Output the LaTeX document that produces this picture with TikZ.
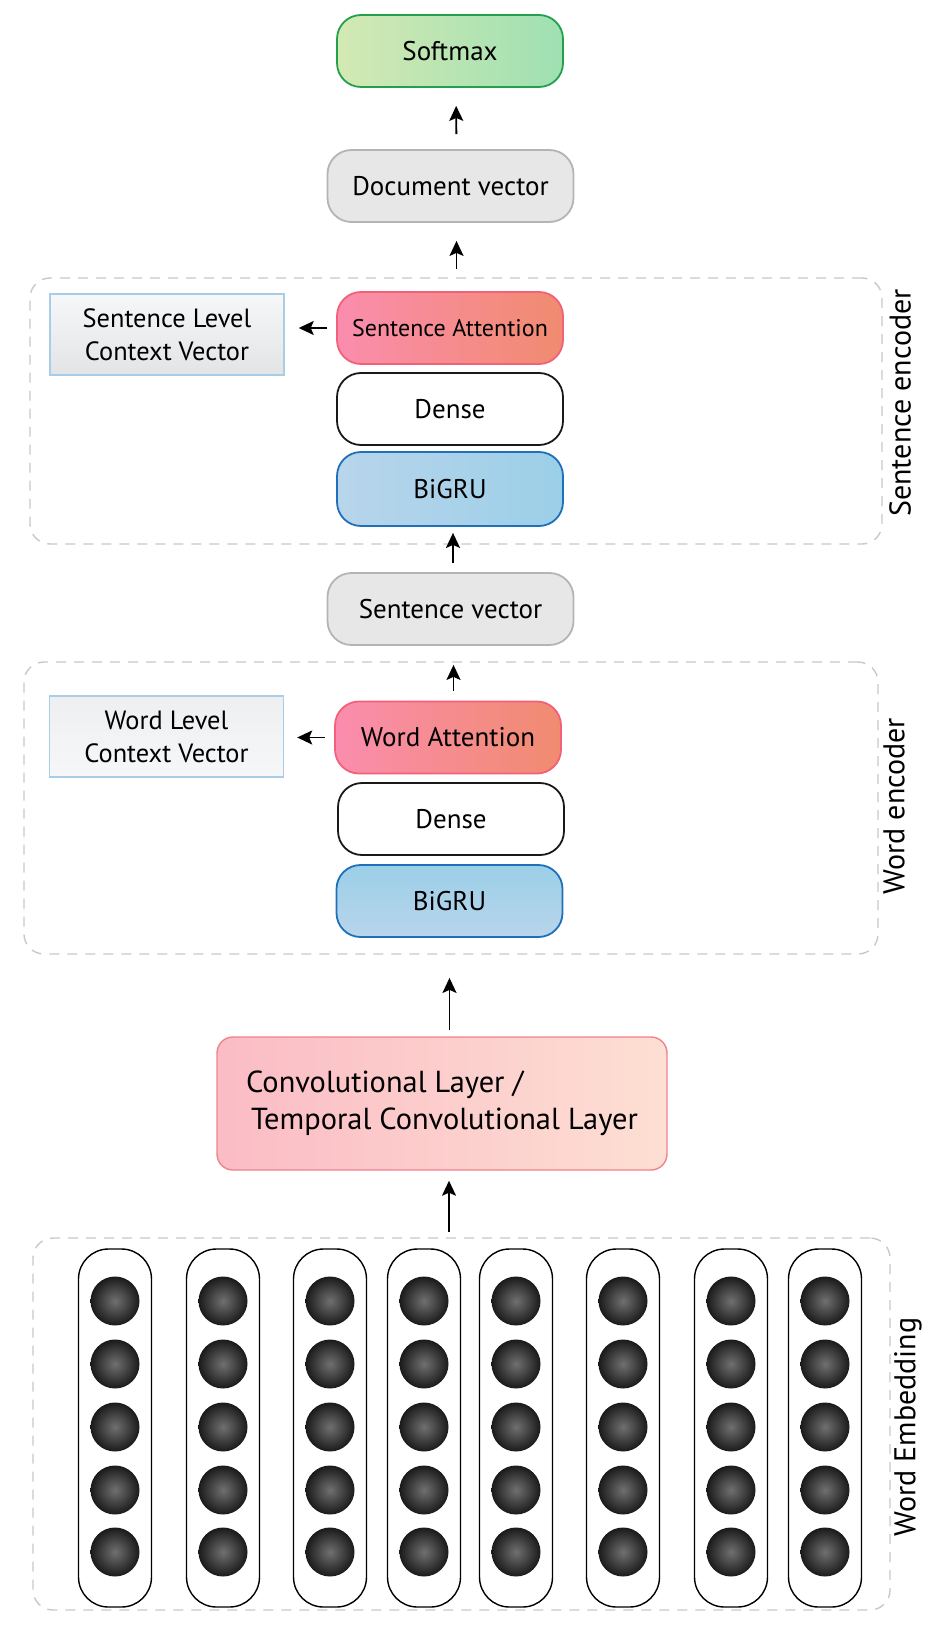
\documentclass[tikz,border=0pt]{standalone}
\usepackage{fontspec}
\setmainfont{PT Sans}
\usetikzlibrary{arrows.meta}

\definecolor{softL}{HTML}{D4E9B4}
\definecolor{softR}{HTML}{9FE0B2}
\definecolor{softB}{HTML}{22A04C}
\definecolor{vecF}{HTML}{E7E7E7}
\definecolor{vecB}{HTML}{B4B4B4}
\definecolor{attL}{HTML}{FA8DAE}
\definecolor{attR}{HTML}{F18B6F}
\definecolor{attB}{HTML}{F2607A}
\definecolor{gruL}{HTML}{B8D5EB}
\definecolor{gruR}{HTML}{9BCFE8}
\definecolor{gruB}{HTML}{1F6FB9}
\definecolor{ctxT}{HTML}{F5F7F9}
\definecolor{ctxD}{HTML}{E3E4E6}
\definecolor{ctxB}{HTML}{A9CDE6}
\definecolor{convL}{HTML}{FBBCC5}
\definecolor{convR}{HTML}{FDDFD3}
\definecolor{convB}{HTML}{F0828A}
\definecolor{grpB}{HTML}{C8C8C8}
\definecolor{ballI}{HTML}{707070}
\definecolor{ballO}{HTML}{1A1A1A}

\tikzset{
  layer/.style={draw, rounded corners=12pt, line width=0.9pt, minimum width=113pt, minimum height=36pt, font=\fontsize{13.5}{16}\selectfont},
  softbox/.style={layer, draw=softB, left color=softL, right color=softR},
  vecbox/.style={layer, draw=vecB, fill=vecF, minimum width=123pt},
  attbox/.style={layer, draw=attB, left color=attL, right color=attR},
  densebox/.style={layer, draw=black!90, fill=white},
  grubox/.style={layer, draw=gruB, left color=gruL, right color=gruR},
  ctxbox/.style={draw=ctxB, line width=0.7pt, top color=ctxT, bottom color=ctxD, minimum width=117pt, minimum height=40.5pt, align=center, font=\fontsize{13.2}{16.5}\selectfont},
  convbox/.style={draw=convB, line width=0.7pt, rounded corners=8pt, left color=convL, right color=convR, minimum width=225pt, minimum height=66.5pt, align=left, font=\fontsize{15.2}{18.5}\selectfont},
  groupbox/.style={draw=grpB, dash pattern=on 5pt off 4pt, line width=0.7pt, rounded corners=10pt},
  grouplabel/.style={rotate=90, font=\fontsize{15}{18}\selectfont},
  wordcol/.style={draw=black, line width=0.7pt, rounded corners=15pt, minimum width=36.5pt, minimum height=179pt},
  ball/.style={circle, minimum size=24.5pt, inner color=ballI, outer color=ballO},
  arr/.style={-{Stealth[length=7.5pt,width=7pt,inset=1.5pt]}, line width=0.9pt, black},
}

\begin{document}
\begin{tikzpicture}[x=0.5pt,y=0.5pt]
	\tikzstyle{every node}+=[inner sep=0pt]
	\useasboundingbox (0,0) rectangle (936,-1631);
	% dashed groups
	\draw (456,-411) node [groupbox, minimum width=426pt, minimum height=133pt] (senc) {};
	\draw (900,-403) node [grouplabel] {Sentence encoder};
	\draw (451,-808) node [groupbox, minimum width=427pt, minimum height=146pt] (wenc) {};
	\draw (894,-806) node [grouplabel] {Word encoder};
	\draw (461.5,-1424) node [groupbox, minimum width=428.5pt, minimum height=186pt] (emb) {};
	\draw (908,-1427) node [grouplabel] {Word Embedding};
	% layers
	\draw (450,-51) node [softbox] (soft) {Softmax};
	\draw (450.5,-186) node [vecbox] (doc) {Document vector};
	\draw (450,-328) node [attbox, font=\fontsize{12}{14}\selectfont] (satt) {Sentence Attention};
	\draw (450,-409) node [densebox] (sdense) {Dense};
	\draw (450,-489) node [grubox, minimum height=37pt] (sgru) {BiGRU};
	\draw (167,-334.5) node [ctxbox] (sctx) {Sentence Level\\Context Vector};
	\draw (450.5,-609) node [vecbox] (svec) {Sentence vector};
	\draw (448,-737.5) node [attbox] (watt) {Word Attention};
	\draw (451,-819) node [densebox] (wdense) {Dense};
	\draw (449.5,-901) node [grubox, top color=gruR, bottom color=gruL] (wgru) {BiGRU};
	\draw (166.5,-736.5) node [ctxbox, top color=ctxD!60, bottom color=ctxT] (wctx) {Word Level\\Context Vector};
	\draw (442,-1103.5) node [convbox] (conv) {Convolutional Layer /\\\,Temporal Convolutional Layer};
	% word embedding columns
	\foreach \x [count=\i] in {115,223,330,424,516,623,731,825} {
		\draw (\x,-1428) node [wordcol] (col\i) {};
		\foreach \y [count=\j] in {1301,1364,1427,1490,1552}
			\draw (\x,-\y) node [ball] (b\i\j) {};
	}
	% arrows
	\draw [arr, shorten <=2.5pt, shorten >=5pt] ([xshift=3.5pt]conv.south |- emb.north) -- ([xshift=3.5pt]conv.south);
	\draw [arr, shorten <=3pt, shorten >=20pt] (conv.north -| wgru.south) -- (wgru.south);
	\draw [arr, shorten <=5pt, shorten >=9.5pt] ([xshift=1.5pt]watt.north -| svec.south) -- ([xshift=1.5pt]svec.south);
	\draw [arr, shorten <=4.5pt, shorten >=3pt] ([xshift=1.5pt]svec.north -| sgru.south) -- ([xshift=1.5pt]sgru.south);
	\draw [arr, shorten <=11pt, shorten >=9pt] ([xshift=3pt]satt.north -| doc.south) -- ([xshift=3pt]doc.south);
	\draw [arr, shorten <=7.5pt, shorten >=9pt] ([xshift=3pt]doc.north) -- ([xshift=3pt]soft.south);
	\draw [arr, shorten <=4.5pt, shorten >=7pt] (satt.west) -- (sctx.east |- satt.west);
	\draw [arr, shorten <=4.5pt, shorten >=6.5pt] (watt.west) -- (wctx.east |- watt.west);
\end{tikzpicture}
\end{document}
